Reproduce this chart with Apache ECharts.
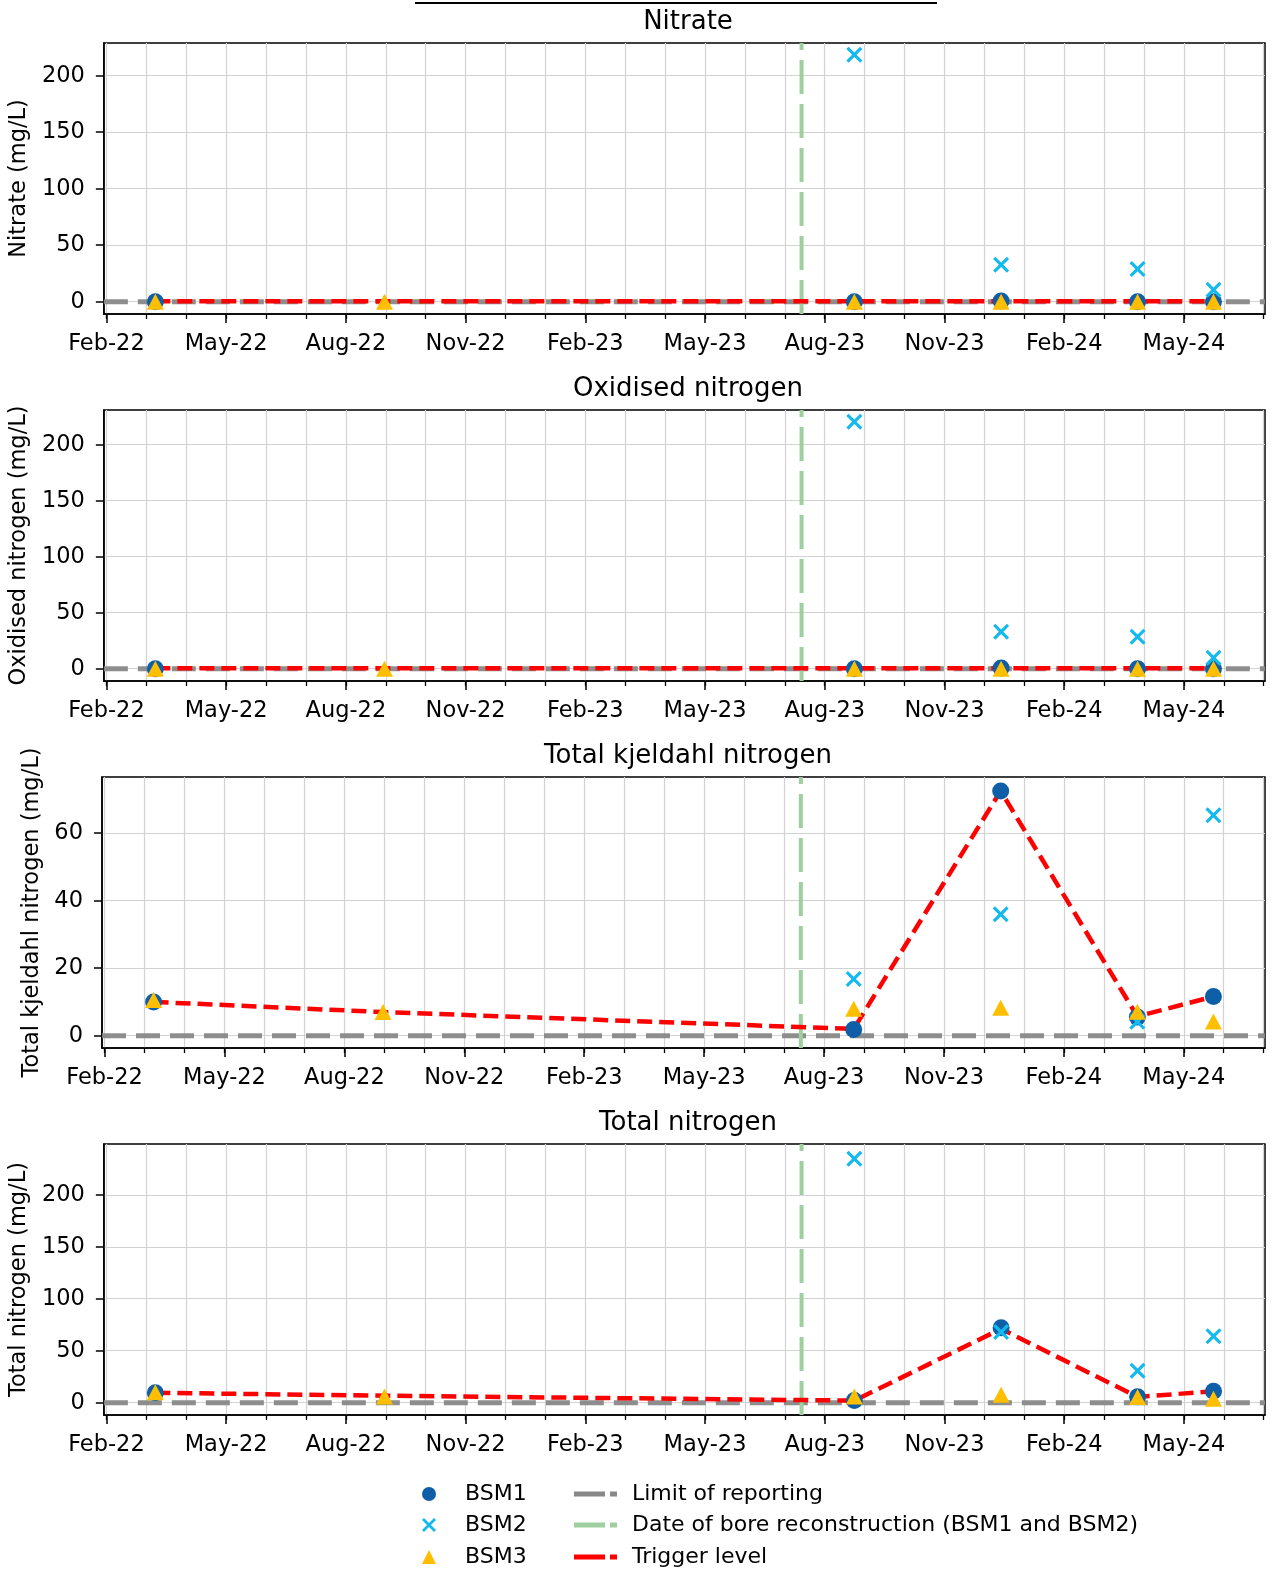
<!DOCTYPE html>
<html>
<head>
<meta charset="utf-8">
<script src="https://cdn.jsdelivr.net/npm/echarts@6/dist/echarts.min.js"></script>
<style>
  html, body { margin: 0; background: #fff; }
  #chart { width: 1274px; height: 1571px; }
</style>
</head>
<body>
<div id="chart"></div>
<script>
// sampling rounds
const sampleDates = ['2022-03-08', '2022-08-31', '2023-08-24', '2023-12-14', '2024-03-27', '2024-05-24']
const reconstructionDate = '2023-07-14'
const axisStartDate = '2022-01-30'
const axisEndDate = '2024-07-02'
const tickLabels = ['Feb-22', 'May-22', 'Aug-22', 'Nov-22', 'Feb-23', 'May-23', 'Aug-23', 'Nov-23', 'Feb-24', 'May-24']

const panelTitles = ['Nitrate', 'Oxidised nitrogen', 'Total kjeldahl nitrogen', 'Total nitrogen']
const yNames = ['Nitrate (mg/L)', 'Oxidised nitrogen (mg/L)', 'Total kjeldahl nitrogen (mg/L)', 'Total nitrogen (mg/L)']
const yTicks = [[0, 50, 100, 150, 200], [0, 50, 100, 150, 200], [0, 20, 40, 60], [0, 50, 100, 150, 200]]
const yRanges = [[-10.9, 228.9], [-11, 231], [-3.65, 76.65], [-11.85, 248.85]]

// one row per panel, one value per sampling round (null = not plotted)
const bsm1 = [
    [0, null, 0, 0.5, 0, 0],
    [0, null, 0, 0.5, 0, 0],
    [10, null, 1.8, 72.5, 5.5, 11.6],
    [9.5, null, 2, 72, 5.7, 11],
]
const bsm2 = [
    [null, null, 218.6, 32.7, 29, 10.6],
    [null, null, 220.5, 33, 28.6, 9.8],
    [null, null, 16.8, 36, 4.1, 65.3],
    [null, null, 234.6, 68, 30.8, 63.8],
]
const bsm3 = [
    [0, 0, 0, 0, 0, 0],
    [0, 0, 0, 0, 0, 0],
    [10.6, 7, 8, 8.3, 7.1, 4.2],
    [10, 6, 6, 7.7, 5.5, 3.8],
]
const trigger = [
    [0.3, 0.3, 0.3, 0.3, 0.3, 0.3],
    [0.3, 0.3, 0.3, 0.3, 0.3, 0.3],
    [10, 7, 2, 72.5, 5.7, 11.6],
    [9.5, 6.7, 2, 71, 5.5, 11],
]
const lor = [0, 0, 0, 0]

const FONT = 'DejaVu Sans'
const C_BSM1 = '#0e5fa8'
const C_BSM2 = '#14b9ee'
const C_BSM3 = '#ffbf00'
const C_LOR = '#888888'
const C_REC = '#9fcf9f'
const C_TRIG = '#ff0000'
const X_SYMBOL = 'path://M0,1.4L1.4,0L5,3.6L8.6,0L10,1.4L6.4,5L10,8.6L8.6,10L5,6.4L1.4,10L0,8.6L3.6,5Z'
const DASH_ICON = 'path://M0,0H31V5H0Z M36,0H43V5H36Z'

// months since Feb-22 (x axis unit)
const toMonths = (s) => {
    const [y, m, d] = s.split('-').map(Number)
    const days = new Date(y, m, 0).getDate()
    return (y - 2022) * 12 + (m - 2) + (d - 1) / days
}
const xMin = toMonths(axisStartDate)
const xMax = toMonths(axisEndDate)
const xs = sampleDates.map(toMonths)
const recX = toMonths(reconstructionDate)

const monthTicks = []
for (let i = 0; i <= 29; i++) monthTicks.push(i)
const quarterTicks = tickLabels.map((_, i) => i * 3)

const pair = (vals) => xs.map((x, i) => (vals[i] == null ? null : [x, vals[i]])).filter((p) => p)

const grid = []
const xAxis = []
const yAxis = []
const title = []
const series = []

for (let i = 0; i < 4; i++) {
    const top = 43 + i * 367
    grid.push({ left: 102, right: 9, top: top, height: 271, show: true, borderColor: '#000', borderWidth: 1.5 })
    title.push({
        text: panelTitles[i], left: 683, top: top - 39, textAlign: 'center',
        textStyle: { fontFamily: FONT, fontSize: 26, fontWeight: 'normal', color: '#000' },
    })
    xAxis.push({
        type: 'value', gridIndex: i, min: xMin, max: xMax, position: 'bottom',
        axisLine: { show: true, onZero: false, lineStyle: { color: '#000', width: 1.5 } },
        axisTick: { show: true, customValues: monthTicks, length: 5, lineStyle: { color: '#000', width: 1.3 } },
        axisLabel: { show: false },
        splitLine: { show: true, lineStyle: { color: '#d2d2d2', width: 1.2 } },
    })
    xAxis.push({
        type: 'value', gridIndex: i, min: xMin, max: xMax, position: 'bottom',
        axisLine: { show: false, onZero: false },
        axisTick: { show: true, customValues: quarterTicks, length: 9, lineStyle: { color: '#000', width: 1.5 } },
        axisLabel: {
            customValues: quarterTicks, margin: 19, fontFamily: FONT, fontSize: 22.5, color: '#000',
            formatter: (v) => tickLabels[Math.round(v / 3)],
        },
        splitLine: { show: false },
    })
    yAxis.push({
        type: 'value', gridIndex: i, min: yRanges[i][0], max: yRanges[i][1],
        name: yNames[i], nameLocation: 'middle', nameGap: i === 2 ? 56 : 70,
        nameTextStyle: { fontFamily: FONT, fontSize: 22.5, color: '#000' },
        axisLine: { show: true, onZero: false, lineStyle: { color: '#000', width: 1.5 } },
        axisTick: { show: true, customValues: yTicks[i], length: 8, lineStyle: { color: '#000', width: 1.5 } },
        axisLabel: { customValues: yTicks[i], margin: 19, fontFamily: FONT, fontSize: 22.5, color: '#000' },
        splitLine: { show: true, lineStyle: { color: '#d2d2d2', width: 1.2 } },
    })

    const axisRef = { xAxisIndex: i * 2, yAxisIndex: i }
    series.push({
        name: 'Limit of reporting', type: 'line', ...axisRef, symbol: 'none', clip: true, z: 2,
        data: [[xMin, lor[i]], [xMax, lor[i]]],
        lineStyle: { color: C_LOR, width: 5, type: [24, 10], opacity: 0.95 },
        itemStyle: { color: C_LOR },
    })
    series.push({
        name: 'Date of bore reconstruction (BSM1 and BSM2)', type: 'line', ...axisRef, symbol: 'none', clip: true, z: 3,
        data: [[recX, yRanges[i][0]], [recX, yRanges[i][1]]],
        lineStyle: { color: C_REC, width: 4, type: [34, 10] },
        itemStyle: { color: C_REC },
    })
    series.push({
        name: 'Trigger level', type: 'line', ...axisRef, symbol: 'none', z: 4,
        data: pair(trigger[i]),
        lineStyle: { color: C_TRIG, width: 4.5, type: [15, 7] },
        itemStyle: { color: C_TRIG },
    })
    series.push({
        name: 'BSM1', type: 'scatter', ...axisRef, symbol: 'circle', symbolSize: 17, z: 5,
        data: pair(bsm1[i]), itemStyle: { color: C_BSM1, opacity: 1 },
    })
    series.push({
        name: 'BSM2', type: 'scatter', ...axisRef, symbol: X_SYMBOL, symbolSize: 16, z: 6,
        data: pair(bsm2[i]), itemStyle: { color: C_BSM2, opacity: 1 },
    })
    series.push({
        name: 'BSM3', type: 'scatter', ...axisRef, symbol: 'triangle', symbolSize: [17, 16], z: 7,
        data: pair(bsm3[i]), itemStyle: { color: C_BSM3, opacity: 1 },
    })
}

const legendText = { fontFamily: FONT, fontSize: 22, color: '#000' }
const rowTops = [1478, 1509, 1541]
const markerNames = ['BSM1', 'BSM2', 'BSM3']
const lineNames = ['Limit of reporting', 'Date of bore reconstruction (BSM1 and BSM2)', 'Trigger level']
const legend = []
markerNames.forEach((n, r) => legend.push({
    data: [n], left: 417, top: rowTops[r], itemWidth: 14, itemHeight: 14,
    textStyle: { ...legendText, padding: [0, 0, 0, 24] },
}))
lineNames.forEach((n, r) => legend.push({
    data: [{ name: n, icon: DASH_ICON }], left: 569, top: rowTops[r], itemWidth: 43, itemHeight: 5,
    textStyle: { ...legendText, padding: [0, 0, 0, 10] },
}))

const chart = echarts.init(document.getElementById('chart'), null, { renderer: 'canvas' })
chart.setOption({
    animation: false,
    backgroundColor: '#fff',
    title: title,
    grid: grid,
    xAxis: xAxis,
    yAxis: yAxis,
    series: series,
    legend: legend,
    graphic: [
        { type: 'rect', shape: { x: 415, y: 2, width: 522, height: 2 }, style: { fill: '#000' } },
    ],
})
</script>
</body>
</html>
